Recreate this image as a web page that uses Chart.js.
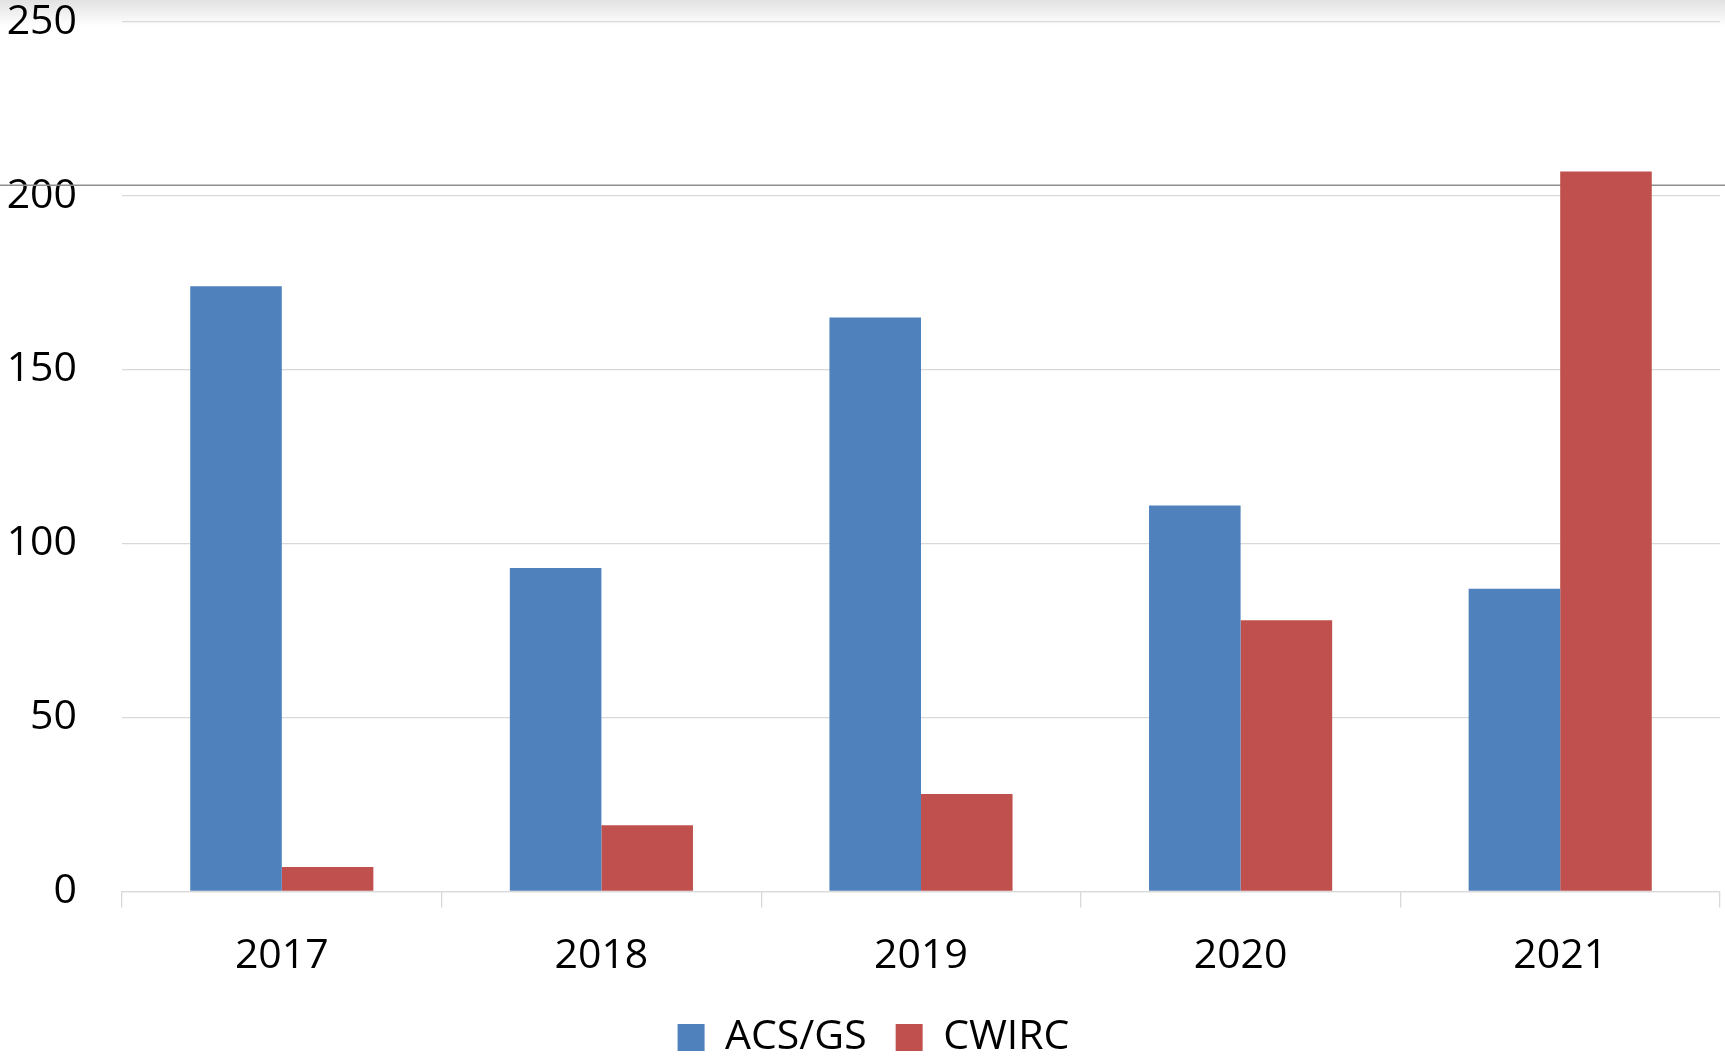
<!DOCTYPE html>
<html>
<head>
<meta charset="utf-8">
<script src="https://cdn.jsdelivr.net/npm/chart.js@4"></script>
<style>
  html, body { margin: 0; padding: 0; background: #ffffff; }
  #wrap { position: relative; width: 1725px; height: 1057px; }
</style>
</head>
<body>
<div id="wrap"><canvas id="c"></canvas></div>
<script>
const categories = ['2017', '2018', '2019', '2020', '2021'];
const acsValues = [174, 93, 165, 111, 87];
const cwircValues = [7, 19, 28, 78, 207];
const seriesNames = ['ACS/GS', 'CWIRC'];
const yTicks = [0, 50, 100, 150, 200, 250];

const decor = {
  id: 'decor',
  afterLayout(chart) {
    if (chart.legend) { chart.legend.left = 27; }
  },
  beforeDraw(chart) {
    const ctx = chart.ctx;
    ctx.save();
    const g = ctx.createLinearGradient(0, 0, 0, 26);
    g.addColorStop(0, '#e2e2e2');
    g.addColorStop(1, '#ffffff');
    ctx.fillStyle = g;
    ctx.fillRect(0, 0, chart.width, 26);
    ctx.restore();
  },
  beforeDatasetsDraw(chart) {
    const ctx = chart.ctx;
    ctx.save();
    ctx.strokeStyle = '#8f8f8f';
    ctx.lineWidth = 1.4;
    ctx.beginPath();
    ctx.moveTo(0, 185.3);
    ctx.lineTo(chart.width, 185.3);
    ctx.stroke();
    ctx.restore();
  }
};

new Chart(document.getElementById('c'), {
  type: 'bar',
  data: {
    labels: categories,
    datasets: [
      { label: seriesNames[0], data: acsValues, backgroundColor: '#4f81bd', borderWidth: 0 },
      { label: seriesNames[1], data: cwircValues, backgroundColor: '#c0504d', borderWidth: 0 }
    ]
  },
  options: {
    responsive: true,
    maintainAspectRatio: false,
    animation: false,
    layout: { padding: { top: 22, right: 5, left: 0, bottom: -11 } },
    font: { family: 'Open Sans' },
    datasets: { bar: { categoryPercentage: 0.573, barPercentage: 1.0 } },
    plugins: {
      tooltip: { enabled: false },
      legend: {
        position: 'bottom',
        labels: {
          boxWidth: 27,
          boxHeight: 27,
          padding: 29,
          color: '#000000',
          font: { family: 'Open Sans', size: 41, lineHeight: 1 }
        }
      }
    },
    scales: {
      x: {
        offset: true,
        grid: { drawOnChartArea: false, drawTicks: true, tickLength: 16, color: '#d9d9d9', lineWidth: 1.3, offset: true },
        border: { display: true, color: '#d9d9d9', width: 1.3 },
        ticks: { color: '#000000', padding: 28, font: { family: 'Open Sans', size: 41, lineHeight: 1 }, maxRotation: 0 },
        afterFit(scale) { scale.height = 96.6; }
      },
      y: {
        min: 0,
        max: 250,
        afterBuildTicks(scale) { scale.ticks = yTicks.map(v => ({ value: v })); },
        grid: { drawTicks: false, color: '#d9d9d9', lineWidth: 1.3 },
        border: { display: false },
        ticks: { color: '#000000', padding: 45, font: { family: 'Open Sans', size: 41, lineHeight: 1 } },
        afterFit(scale) { scale.width = 122; scale.paddingTop = 20; scale.paddingBottom = 20; }
      }
    }
  },
  plugins: [decor]
});
</script>
</body>
</html>
